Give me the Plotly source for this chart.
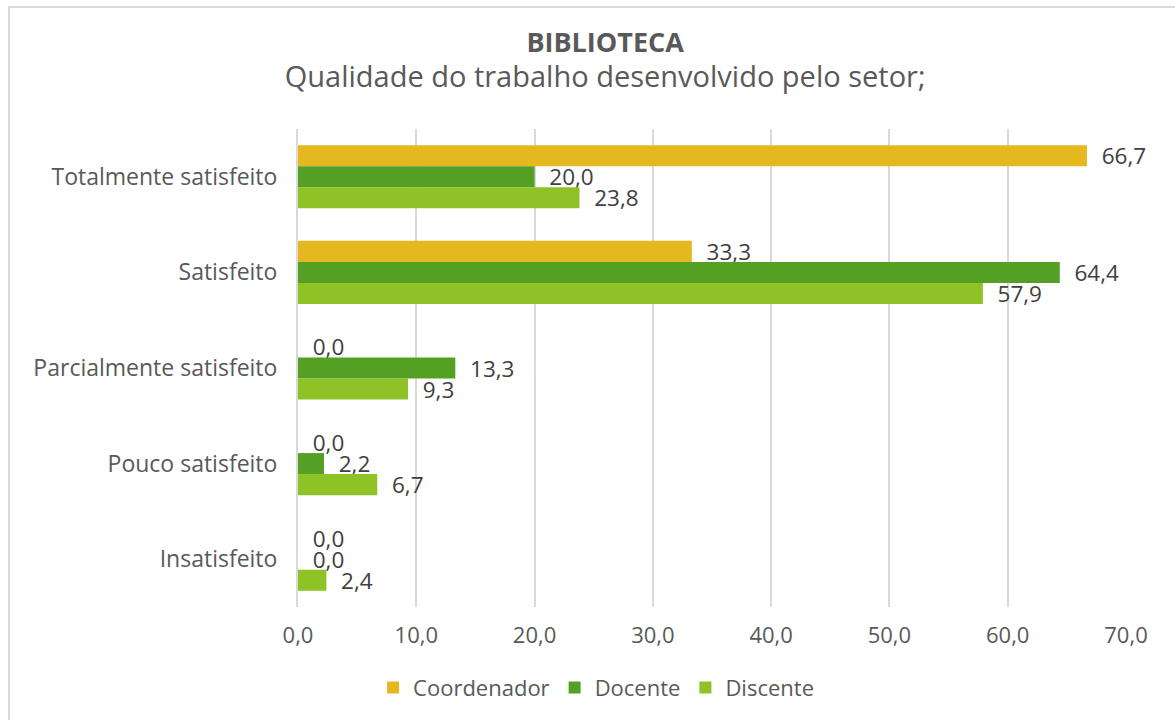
import plotly.graph_objects as go

categories = ["Totalmente satisfeito", "Satisfeito", "Parcialmente satisfeito",
              "Pouco satisfeito", "Insatisfeito"]
series_names = ["Coordenador", "Docente", "Discente"]
coordenador = [66.7, 33.3, 0.0, 0.0, 0.0]
docente = [20.0, 64.4, 13.3, 2.2, 0.0]
discente = [23.8, 57.9, 9.3, 6.7, 2.4]
tick_vals = [0, 10, 20, 30, 40, 50, 60, 70]
colors = ["#E6B820", "#54A024", "#8FC226"]

FONT = "Open Sans"

def fmt(v):
    return "&nbsp;&nbsp;" + f"{v:.1f}".replace(".", ",")

fig = go.Figure()
for name, vals, col in zip(series_names, [coordenador, docente, discente], colors):
    fig.add_trace(go.Bar(
        y=categories, x=vals, name=name, orientation="h",
        marker=dict(color=col, line=dict(width=0)),
        text=[fmt(v) for v in vals], textposition="outside",
        textfont=dict(family=FONT, size=22.5, color="#404040"),
        constraintext="none", cliponaxis=False,
    ))

L, R, T, B = 298, 49, 129, 113
PW, PH = 1175 - L - R, 720 - T - B

fig.update_layout(
    width=1175, height=720,
    barmode="group", bargap=0.34, bargroupgap=0,
    paper_bgcolor="white", plot_bgcolor="white",
    margin=dict(l=L, r=R, t=T, b=B, autoexpand=False),
    font=dict(family=FONT, color="#595959"),
    separators=",.",
    title=dict(
        text="<b>BIBLIOTECA</b><br><span style='font-size:29px'>Qualidade do trabalho desenvolvido pelo setor;</span>",
        x=0.515, xanchor="center", y=1 - 52/720, yanchor="top",
        font=dict(family=FONT, size=27, color="#595959"),
    ),
    xaxis=dict(
        range=[0, 70], tickvals=tick_vals, tickformat=".1f",
        showgrid=True, gridcolor="#D9D9D9", gridwidth=2,
        zeroline=False, showline=False,
        tickfont=dict(family=FONT, size=22, color="#595959"),
        ticks="", ticklabelstandoff=13,
    ),
    yaxis=dict(
        autorange="reversed", showgrid=False, zeroline=False,
        showline=True, linecolor="#D9D9D9", linewidth=2,
        tickfont=dict(family=FONT, size=23, color="#595959"),
        ticks="", ticklabelstandoff=14,
    ),
    legend=dict(
        orientation="h", x=0.36, xanchor="center", y=-0.125, yanchor="top",
        font=dict(family=FONT, size=22, color="#595959"),
        itemwidth=30, tracegroupgap=0,
    ),
    shapes=[dict(type="rect", xref="paper", yref="paper",
                 x0=-(L - 9)/PW, x1=1 + (R + 20)/PW, y0=-(B + 20)/PH, y1=1 + (T - 7)/PH,
                 line=dict(color="#D9D9D9", width=2), fillcolor="rgba(0,0,0,0)",
                 layer="below")],
)

fig.write_html("out.html", config={"displayModeBar": False},
               post_script="document.body.style.margin='0';")
